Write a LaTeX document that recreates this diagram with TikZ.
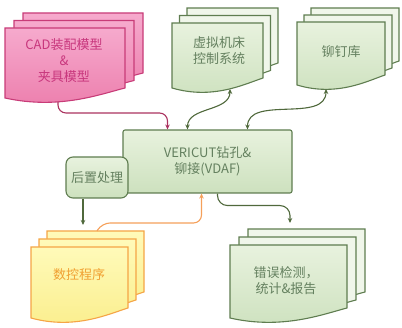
\documentclass[tikz,border=0pt]{standalone}
\usepackage{fontspec}
\newfontfamily\cjk{Noto Sans CJK SC}
\usetikzlibrary{arrows.meta}

\definecolor{pinkline}{RGB}{200,60,120}
\definecolor{pinktop}{RGB}{246,170,205}
\definecolor{pinkbot}{RGB}{236,125,172}
\definecolor{pinktext}{RGB}{200,55,125}
\definecolor{pinkarr}{RGB}{170,50,95}
\definecolor{greenline}{RGB}{95,125,80}
\definecolor{greentop}{RGB}{232,242,222}
\definecolor{greenbot}{RGB}{205,225,190}
\definecolor{greenback}{RGB}{240,246,234}
\definecolor{greentext}{RGB}{100,128,95}
\definecolor{greenarr}{RGB}{80,105,60}
\definecolor{yellowline}{RGB}{245,165,70}
\definecolor{yellowtop}{RGB}{255,250,185}
\definecolor{yellowbot}{RGB}{250,238,140}
\definecolor{yellowtext}{RGB}{240,160,50}
\definecolor{orangearr}{RGB}{245,160,90}

% document outline: left, top, width, height of left side
\newcommand{\docshape}[4]{({#1},{#2}) -- ({#1+#3},{#2}) -- ({#1+#3},{#2-#4+10})
  .. controls ({#1+0.8*#3},{#2-#4+4}) and ({#1+0.45*#3},{#2-#4-12}) .. ({#1},{#2-#4}) -- cycle}

\begin{document}
\begin{tikzpicture}[x=1pt, y=1pt,
    >={Stealth[length=5pt,width=4.5pt]},
    doctext/.style={align=center, font=\cjk\fontsize{13}{16}\selectfont},
    pinkdoc/.style={draw=pinkline, line width=1.1pt, top color=pinktop, bottom color=pinkbot},
    greendoc/.style={draw=greenline, line width=1.1pt, top color=greentop, bottom color=greenbot},
    greenpage/.style={draw=greenline, line width=1.1pt, fill=greenback},
    yellowdoc/.style={draw=yellowline, line width=1.1pt, top color=yellowtop, bottom color=yellowbot},
    greenbox/.style={draw=greenline, line width=1.1pt, top color=greentop, bottom color=greenbot,
      text=greentext, inner sep=0pt, font=\cjk\fontsize{13}{16}\selectfont, align=center},
    pinkarrow/.style={->, draw=pinkarr, line width=1.1pt, rounded corners=8},
    greenarrow/.style={->, draw=greenarr, line width=1.1pt},
    orangearrow/.style={->, draw=orangearr, line width=1.1pt, rounded corners=8}]

    \useasboundingbox (0,0) rectangle (402,328);

    % CAD models
    \draw[pinkdoc] \docshape{23}{315}{120}{70};
    \draw[pinkdoc] \docshape{14}{307.5}{120}{70};
    \draw[pinkdoc] \docshape{5}{300}{120}{70};
    \node[doctext, text=pinktext] (cad) at (64,267) {CAD装配模型\\\&\\夹具模型};

    % Virtual machine control
    \draw[greenpage] \docshape{187}{320}{91}{65};
    \draw[greenpage] \docshape{179.5}{312.5}{91}{65};
    \draw[greendoc] \docshape{172}{305}{91}{65};
    \node[doctext, text=greentext] (vmc) at (219,277) {虚拟机床\\控制系统};

    % Rivet library
    \draw[greenpage] \docshape{311}{320}{88}{63};
    \draw[greenpage] \docshape{304}{313}{88}{63};
    \draw[greendoc] \docshape{297}{306}{88}{63};
    \node[doctext, text=greentext] (rivet) at (341,276) {铆钉库};

    % NC program
    \draw[yellowdoc] \docshape{47}{97}{97}{71};
    \draw[yellowdoc] \docshape{39}{89}{97}{71};
    \draw[yellowdoc] \docshape{31}{81}{97}{71};
    \node[doctext, text=yellowtext] (nc) at (79,53) {数控程序};

    % Error report
    \draw[greenpage] \docshape{248}{99}{117}{73};
    \draw[greenpage] \docshape{239}{91}{117}{73};
    \draw[greendoc] \docshape{230}{83}{117}{73};
    \node[doctext, text=greentext] (err) at (286,47) {错误检测，\\统计\&报告};

    % Boxes
    \node[greenbox, rounded corners=2pt, minimum width=169pt, minimum height=63pt]
      (vdaf) at (207.5,166.5) {VERICUT钻孔\&\\铆接(VDAF)};
    \node[greenbox, rounded corners=7pt, minimum width=62pt, minimum height=41pt]
      (post) at (97,150.5) {后置处理};

    % Connector ends
    \coordinate (cadout) at (58,226);
    \coordinate (vmcin) at (230,239);
    \coordinate (rivetin) at (326,239);
    \coordinate (ncin) at (83,103);
    \coordinate (ncout) at (97,97);
    \coordinate (errin) at (290,105);

    % Connectors
    \draw[pinkarrow] (cadout) -- ++(0,-11) -| ([xshift=-40pt]vdaf.north);
    \draw[greenarrow, <->] ([xshift=-20pt]vdaf.north) to[out=90, in=-90] (vmcin);
    \draw[greenarrow, <->] ([xshift=40pt]vdaf.north) to[out=90, in=-90] (rivetin);
    \draw[greenarrow] ([xshift=-14pt]post.south) -- (ncin);
    \draw[orangearrow] (ncout) -- ++(5,8) -| ([xshift=-6pt]vdaf.south);
    \draw[greenarrow, rounded corners=10] ([xshift=10pt]vdaf.south) -- ++(0,-12) -| (errin);

\end{tikzpicture}
\end{document}
